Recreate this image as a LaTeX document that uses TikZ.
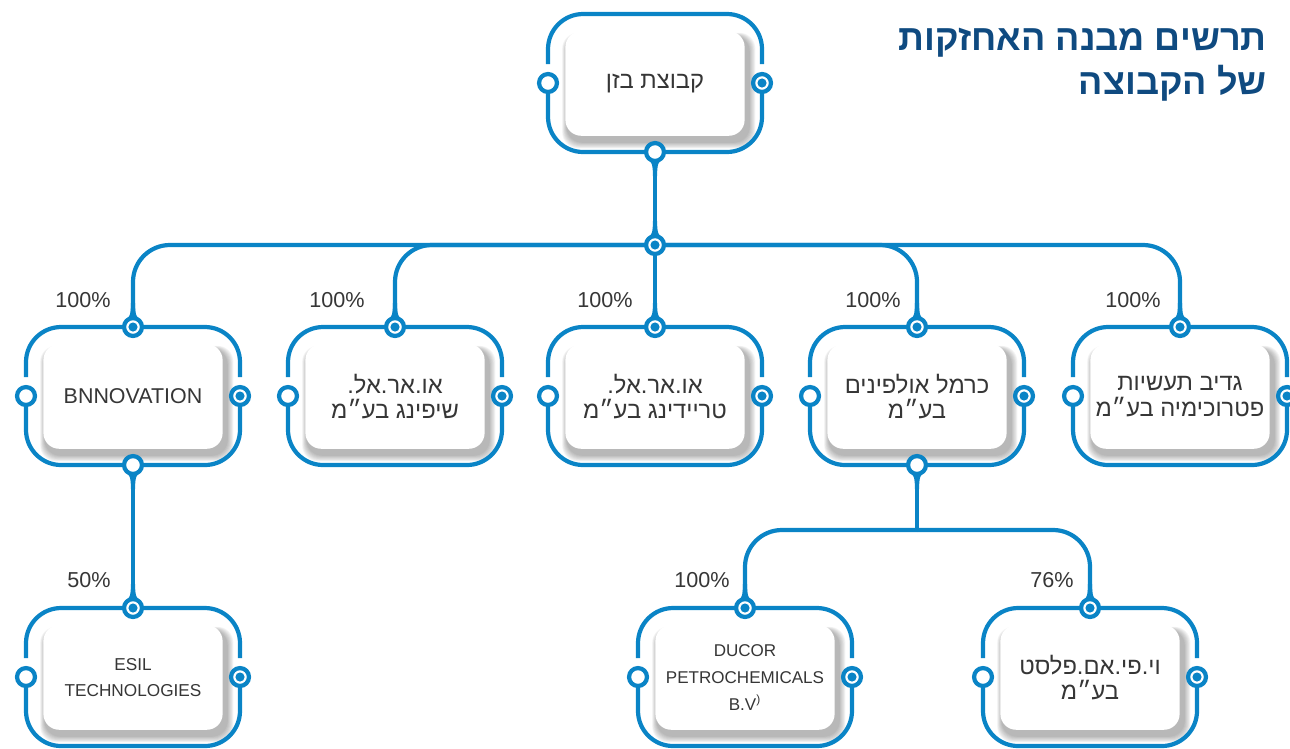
\documentclass[tikz,border=0pt]{standalone}
\usepackage{fontspec}
\setmainfont{Liberation Sans}
\newfontfamily\heb[Script=Hebrew]{Liberation Sans}
\TeXXeTstate=1
\pgfdeclarelayer{bg}
\pgfsetlayers{bg,main}
\definecolor{bl}{HTML}{0A84C6}
\definecolor{ttl}{HTML}{0F4A80}
\definecolor{txt}{HTML}{363636}
\tikzset{
  lnk/.style={draw=bl, line width=2.4pt},
  frm/.style={draw=bl, line width=2.4pt, rounded corners=20pt},
  ringh/.style={circle, draw=bl, line width=2.4pt, fill=white, minimum size=10.2pt, inner sep=0pt},
  ringd/.style={ringh, path picture={\fill[bl] (path picture bounding box.center) circle (2.6pt);}},
  card/.style={fill=white, rounded corners=9pt, minimum width=102pt, minimum height=59.5pt, inner sep=0pt, align=center, text=txt},
  lbl/.style={text=txt, font=\fontsize{12.3}{14}\selectfont},
  flareup/.pic={\fill[bl] (-8,-5) .. controls (-3,-10) and (-2.1,-13) .. (-2.1,-24) -- (2.1,-24) .. controls (2.1,-13) and (3,-10) .. (8,-5) -- cycle;},
  flaredn/.pic={\fill[bl] (-8,5) .. controls (-3,10) and (-2.1,13) .. (-2.1,24) -- (2.1,24) .. controls (2.1,13) and (3,10) .. (8,5) -- cycle;}
}
\newcommand\orgbox[5]{%
  \begin{scope}[shift={(#2,#3)}]
    \foreach \i in {1,...,8}{\fill[black,opacity=0.04,rounded corners=9pt] (-90+2-\i*0.6,-52+5-\i*0.4) rectangle (90+4+\i*0.8,53+6+\i*0.8);}
    \node[card, font={#4}] (#1) at (0,0.5) {#5};
    \draw[frm] (-107,-19) -- (-107,-69) -- (107,-69) -- (107,-19);
    \draw[frm] (-107,0) -- (-107,69) -- (107,69) -- (107,0);
    \node[ringh] (#1-l) at (-107,0) {};
    \node[ringd] (#1-r) at (107,0) {};
  \end{scope}}
\begin{document}
\begin{tikzpicture}[x=0.02cm,y=-0.02cm]
\useasboundingbox (0,0) rectangle (1290,748);
% title
\node[anchor=east, inner sep=0pt, align=right, text=ttl, font=\heb\bfseries\fontsize{20.5}{25}\selectfont] (title) at (1267,65)
  {\beginR תרשים מבנה האחזקות\endR\\\beginR של הקבוצה\endR};
% boxes
\orgbox{bazan}{655}{83}{\heb\fontsize{13.5}{14.2}\selectfont}{\beginR קבוצת בזן\endR}
\orgbox{bnn}{133}{396}{\fontsize{12.2}{14}\selectfont}{BNNOVATION}
\orgbox{shp}{395}{396}{\heb\fontsize{13.5}{14.4}\selectfont}{\beginR או.אר.אל.\endR\\\beginR שיפינג בע״מ\endR}
\orgbox{trd}{655}{396}{\heb\fontsize{13.5}{14.4}\selectfont}{\beginR או.אר.אל.\endR\\\beginR טריידינג בע״מ\endR}
\orgbox{car}{917}{396}{\heb\fontsize{13.5}{14.4}\selectfont}{\beginR כרמל אולפינים\endR\\\beginR בע״מ\endR}
\orgbox{gad}{1180}{396}{\heb\fontsize{13.5}{14.4}\selectfont}{\beginR גדיב תעשיות\endR\\\beginR פטרוכימיה בע״מ\endR}
\orgbox{esil}{133}{677}{\fontsize{9.8}{14.5}\selectfont}{ESIL\\TECHNOLOGIES}
\orgbox{duc}{745}{677}{\fontsize{9.7}{15.3}\selectfont}{DUCOR\\PETROCHEMICALS\\B.V\textsuperscript{)}}
\orgbox{vpm}{1090}{677}{\heb\fontsize{13.5}{14.4}\selectfont}{\beginR וי.פי.אם.פלסט\endR\\\beginR בע״מ\endR}
% rings
\node[ringh] (bazan-b) at (655,152) {};
\node[ringd] (jn) at (655,245) {};
\foreach \n/\x in {bnn/133,shp/395,trd/655,car/917,gad/1180}{\node[ringd] (\n-t) at (\x,327) {};}
\node[ringh] (bnn-b) at (133,465) {};
\node[ringh] (car-b) at (917,465) {};
\foreach \n/\x in {esil/133,duc/745,vpm/1090}{\node[ringd] (\n-t) at (\x,608) {};}
\coordinate (lowj) at (917,530);
% percent labels
\node[lbl] (p-bnn) at (83,300) {100\%};
\node[lbl] (p-shp) at (337,300) {100\%};
\node[lbl] (p-trd) at (605,300) {100\%};
\node[lbl] (p-car) at (873,300) {100\%};
\node[lbl] (p-gad) at (1133,300) {100\%};
\node[lbl] (p-esil) at (89,580) {50\%};
\node[lbl] (p-duc) at (702,580) {100\%};
\node[lbl] (p-vpm) at (1052,580) {76\%};
% connectors
\begin{pgfonlayer}{bg}
\draw[lnk] (bazan-b.center) -- (jn.center);
\draw[lnk, rounded corners=21pt] (jn.center) -| (bnn-t.center);
\draw[lnk, rounded corners=21pt] (jn.center) -| (shp-t.center);
\draw[lnk] (jn.center) -- (trd-t.center);
\draw[lnk, rounded corners=21pt] (jn.center) -| (car-t.center);
\draw[lnk, rounded corners=21pt] (jn.center) -| (gad-t.center);
\draw[lnk] (bnn-b.center) -- (esil-t.center);
\draw[lnk] (car-b.center) -- (lowj);
\draw[lnk, rounded corners=21pt] (lowj) -| (duc-t.center);
\draw[lnk, rounded corners=21pt] (lowj) -| (vpm-t.center);
\pic at (bazan-b) {flaredn};
\pic at (jn) {flareup};
\foreach \n in {bnn,shp,trd,car,gad,esil,duc,vpm}{\pic at (\n-t) {flareup};}
\pic at (bnn-b) {flaredn};
\pic at (car-b) {flaredn};
\end{pgfonlayer}
\end{tikzpicture}
\end{document}
